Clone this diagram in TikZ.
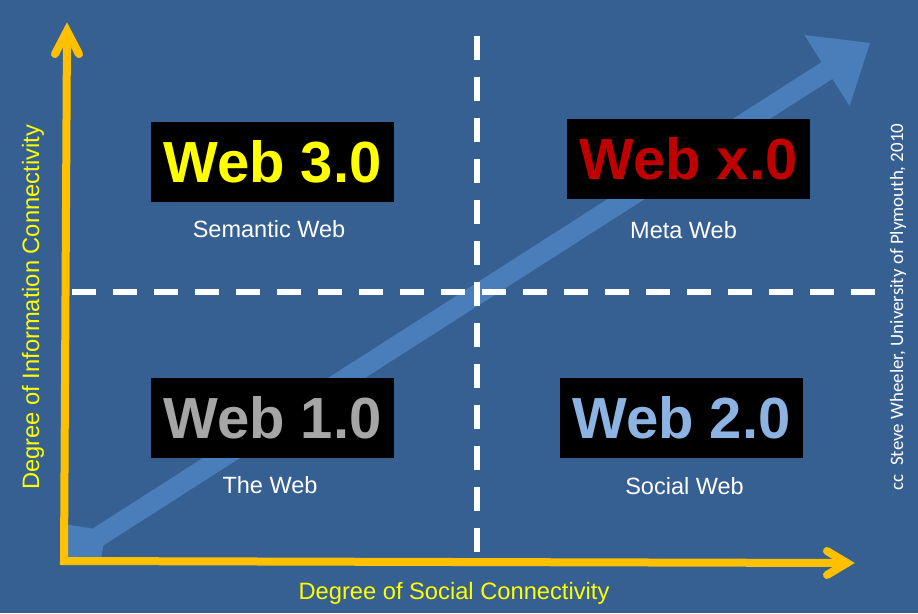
\documentclass[tikz,border=0pt]{standalone}
\usepackage{fontspec}
\setmainfont{Liberation Sans}
\newfontfamily\credfont{Carlito}
\definecolor{bgblue}{HTML}{376092}
\definecolor{arrowblue}{HTML}{4A7EBB}
\definecolor{axisorange}{HTML}{FFC000}
\definecolor{axisyellow}{HTML}{FFFF00}
\definecolor{webthree}{HTML}{FFFF00}
\definecolor{webx}{HTML}{C00000}
\definecolor{webone}{HTML}{A6A6A6}
\definecolor{webtwo}{HTML}{8DB3E2}
\begin{document}
\begin{tikzpicture}[x=1pt,y=-1pt,
  titlebox/.style={fill=black, inner sep=0pt, minimum width=243pt, minimum height=80pt,
    font=\fontsize{58}{60}\selectfont\bfseries},
  subtitle/.style={text=white, font=\fontsize{23.5}{26}\selectfont, inner sep=0pt, anchor=base},
  axislabel/.style={text=axisyellow, font=\fontsize{23.7}{26}\selectfont, inner sep=0pt, anchor=base},
  axisline/.style={draw=axisorange, line width=8pt, line cap=round, line join=miter},
  gridline/.style={draw=white, line width=6pt, dash pattern=on 24pt off 17pt},
]
\useasboundingbox (0,0) rectangle (918,613);
\fill[bgblue] (0,0) rectangle (918,613);

% big diagonal arrow
\fill[arrowblue] (64,524) -- (92.6,528.6) -- (821.6,62.1) -- (804.4,35) -- (870,43)
  -- (849.6,106) -- (832.4,78.9) -- (103.4,545.4) -- (100.6,561) -- (64,561) -- cycle;

% dashed quadrant lines
\coordinate (vtop) at (476.5,36);
\coordinate (vbot) at (476.5,557);
\coordinate (hleft) at (72,292);
\coordinate (hright) at (881,292);
\draw[gridline] (vtop) -- (vbot);
\draw[gridline] (hleft) -- (hright);

% boxes
\node[titlebox, text=webthree] (w3) at (272.5,161.5) {Web 3.0};
\node[titlebox, text=webx] (wx) at (688.5,159) {Web x.0};
\node[titlebox, text=webone] (w1) at (272.5,418) {Web 1.0};
\node[titlebox, text=webtwo] (w2) at (681.5,418) {Web 2.0};

\node[subtitle] (s3) at (269,237.5) {Semantic Web};
\node[subtitle] (sx) at (683.5,238) {Meta Web};
\node[subtitle] (s1) at (270,493) {The Web};
\node[subtitle] (s2) at (684.5,494) {Social Web};

% axes
\coordinate (ytip) at (67,31);
\coordinate (origin) at (64,561);
\coordinate (xtip) at (847,563);
\draw[axisline, line cap=butt] (ytip) -- (origin) -- (xtip);
\draw[axisline] (55,54) -- (ytip) -- (79,54);
\draw[axisline] (827,551) -- (xtip) -- (827,575);

\node[axislabel] (xlab) at (454,599) {Degree of Social Connectivity};
\node[axislabel, rotate=90] (ylab) at (39,307.5) {Degree of Information Connectivity};

\node[text=white, font=\credfont\fontsize{18.9}{21}\selectfont, inner sep=0pt, anchor=base, rotate=90]
  (credit) at (903,307) {cc\ \ Steve Wheeler, University of Plymouth, 2010};
\end{tikzpicture}
\end{document}
